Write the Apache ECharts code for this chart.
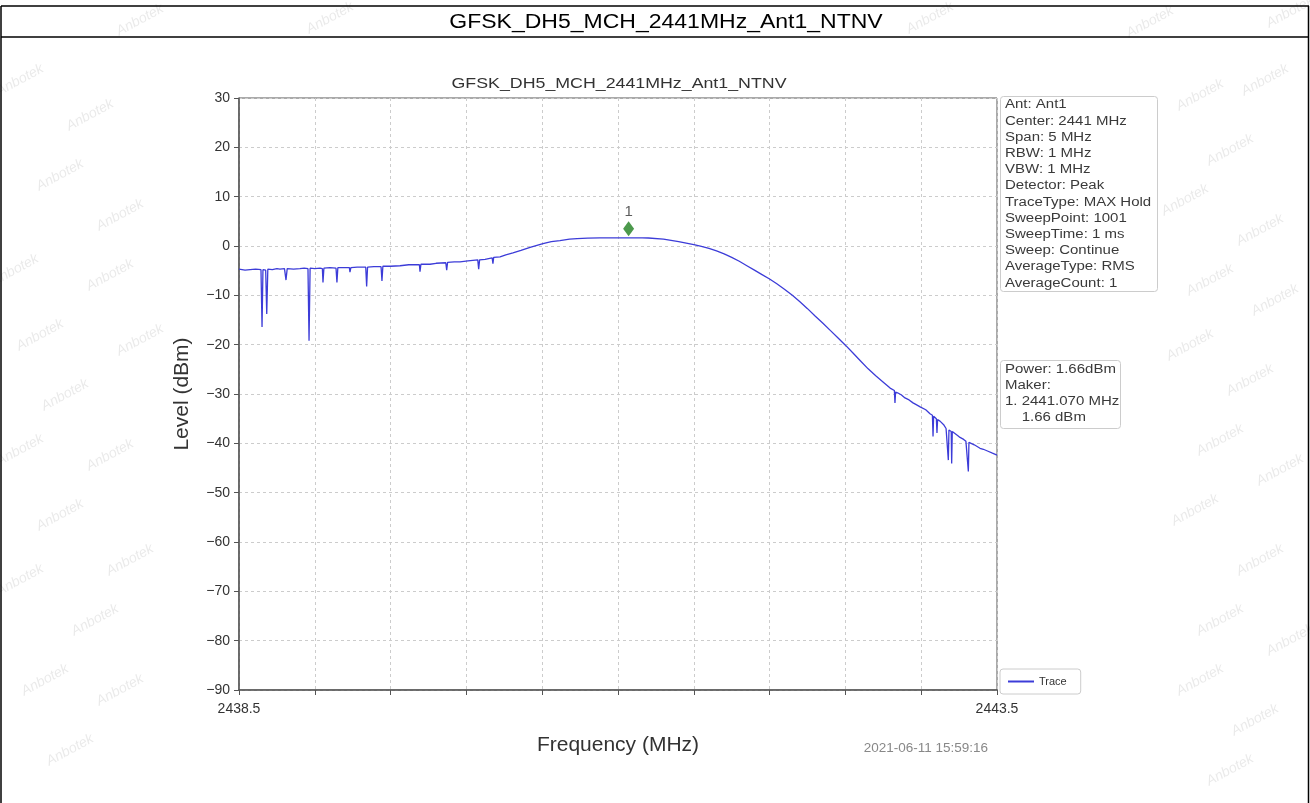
<!DOCTYPE html>
<html>
<head>
<meta charset="utf-8">
<script src="https://cdn.jsdelivr.net/npm/echarts@6/dist/echarts.min.js"></script>
<style>
html,body{margin:0;padding:0;background:#fff;}
#chart{width:1310px;height:803px;}
</style>
</head>
<body>
<div id="chart"></div>
<script>
// ---- data ----
var pageTitle = "GFSK_DH5_MCH_2441MHz_Ant1_NTNV";
var chartTitle = "GFSK_DH5_MCH_2441MHz_Ant1_NTNV";
var xTickLabels = [2438.5, 2443.5];
var freqMHz = [
  2438.500,2438.540,2438.573,2438.610,2438.645,2438.652,2438.658,2438.676,2438.683,2438.690,
  2438.720,2438.750,2438.770,2438.800,2438.810,2438.818,2438.860,2438.902,2438.930,2438.955,
  2438.962,2438.969,2439.000,2439.034,2439.050,2439.054,2439.060,2439.100,2439.140,2439.146,
  2439.152,2439.190,2439.228,2439.232,2439.238,2439.280,2439.336,2439.342,2439.348,2439.390,
  2439.437,2439.443,2439.449,2439.500,2439.562,2439.620,2439.690,2439.694,2439.700,2439.760,
  2439.800,2439.864,2439.870,2439.876,2439.920,2439.958,2440.010,2440.075,2440.081,2440.087,
  2440.123,2440.170,2440.175,2440.180,2440.222,2440.260,2440.307,2440.360,2440.420,2440.505,
  2440.560,2440.617,2440.680,2440.730,2440.800,2440.881,2440.980,2441.070,2441.160,2441.200,
  2441.300,2441.400,2441.450,2441.500,2441.550,2441.600,2441.650,2441.700,2441.750,2441.800,
  2441.850,2441.900,2441.950,2442.000,2442.050,2442.100,2442.150,2442.200,2442.250,2442.300,
  2442.350,2442.400,2442.450,2442.500,2442.550,2442.600,2442.650,2442.700,2442.750,2442.795,
  2442.823,2442.827,2442.831,2442.847,2442.870,2442.893,2442.920,2442.946,2442.970,
  2442.993,2443.030,2443.058,2443.074,2443.078,2443.082,2443.091,2443.100,2443.104,2443.108,
  2443.124,2443.150,2443.164,2443.175,2443.179,2443.183,2443.190,2443.198,2443.201,2443.205,
  2443.216,2443.240,2443.256,2443.280,2443.295,2443.307,2443.311,2443.315,2443.322,2443.350,
  2443.388,2443.410,2443.441,2443.470,2443.500
];
var levelDBm = [
  -4.7,-4.9,-4.8,-4.7,-4.8,-16.4,-4.8,-4.9,-13.8,-4.7,
  -4.8,-4.6,-4.7,-4.6,-6.9,-4.6,-4.7,-4.6,-4.5,-4.6,
  -19.2,-4.5,-4.6,-4.5,-4.6,-7.4,-4.5,-4.4,-4.5,-7.4,
  -4.4,-4.4,-4.4,-5.3,-4.4,-4.3,-4.3,-8.2,-4.3,-4.2,
  -4.2,-7.1,-4.1,-4.1,-4.0,-3.8,-3.8,-5.2,-3.7,-3.7,
  -3.5,-3.4,-4.9,-3.3,-3.2,-3.2,-3.0,-2.8,-4.7,-2.8,
  -2.7,-2.4,-3.6,-2.3,-2.2,-1.8,-1.4,-0.9,-0.3,0.5,
  0.9,1.1,1.4,1.5,1.6,1.65,1.66,1.66,1.64,1.62,
  1.4,0.9,0.6,0.3,-0.1,-0.5,-1.0,-1.6,-2.3,-3.1,
  -4.0,-4.9,-5.8,-6.7,-7.7,-8.8,-10.0,-11.3,-12.7,-14.2,
  -15.6,-17.1,-18.6,-20.1,-21.7,-23.3,-24.9,-26.3,-27.6,-28.8,
  -29.3,-31.8,-29.6,-29.8,-30.2,-30.8,-31.2,-31.8,-32.2,
  -32.6,-33.2,-34.0,-34.3,-38.6,-34.5,-34.6,-35.0,-37.9,-35.2,
  -35.5,-36.3,-37.0,-37.2,-43.4,-37.3,-37.4,-37.6,-44.1,-37.6,
  -37.8,-38.4,-38.8,-39.2,-39.6,-39.7,-45.7,-39.8,-39.9,-40.3,
  -41.0,-41.2,-41.6,-42.0,-42.4
];
var markerFreq = [2441.070];
var markerLevel = [1.66];
var markerNames = ["1"];
var infoLines = ["Ant: Ant1","Center: 2441 MHz","Span: 5 MHz","RBW: 1 MHz","VBW: 1 MHz","Detector: Peak","TraceType: MAX Hold","SweepPoint: 1001","SweepTime: 1 ms","Sweep: Continue","AverageType: RMS","AverageCount: 1"];
var powerLines = ["Power: 1.66dBm","Maker:","1. 2441.070 MHz","    1.66 dBm"];
var timestamp = "2021-06-11 15:59:16";
var legendName = "Trace";

// ---- build ----
var traceData = freqMHz.map(function(f,i){return [f, levelDBm[i]];});
var markerData = markerFreq.map(function(f,i){return {value:[f, markerLevel[i]], name: markerNames[i]};});

var FONT = "Liberation Sans, Arial, sans-serif";
var wm = [];
var wmPos = [[20,80],[90,115],[60,175],[120,215],[15,270],[110,275],[40,335],[140,340],[65,395],[20,450],[110,455],[60,515],[130,560],[20,580],[95,620],[45,680],[120,690],[70,750],
             [1200,95],[1265,80],[1230,150],[1185,200],[1260,230],[1210,280],[1275,300],[1190,345],[1250,380],[1220,440],[1280,470],[1195,510],[1260,560],[1220,620],[1290,640],[1200,680],[1255,720],[1230,770],
             [140,20],[330,18],[930,18],[1150,22],[1290,12]];
wmPos.forEach(function(p){
  wm.push({type:'text', x:p[0], y:p[1], rotation:0.5, style:{text:'Anbotek', fill:'rgba(150,150,150,0.2)', font:'italic 14px '+FONT, align:'center', verticalAlign:'middle'}, silent:true});
});

var chart = echarts.init(document.getElementById('chart'), null, {renderer:'canvas'});
var option = {
  backgroundColor:'#ffffff',
  animation:false,
  grid:{left:239, right:313, top:98, bottom:113, show:true, borderColor:'#555', borderWidth:1, backgroundColor:'#fff'},
  legend:{
    data:[legendName], left:1000, top:669, orient:'vertical',
    itemWidth:26, itemHeight:2, itemGap:4, padding:[7,14,7,8],
    borderColor:'#ccc', borderWidth:1, borderRadius:3, backgroundColor:'#fff',
    textStyle:{fontFamily:FONT, fontSize:11, color:'#333'},
    icon:'rect'
  },
  xAxis:{
    type:'value', min:2438.5, max:2443.5, interval:0.5,
    name:'Frequency (MHz)', nameLocation:'middle', nameGap:45,
    nameTextStyle:{fontFamily:FONT, fontSize:21, color:'#333'},
    axisLine:{show:true, onZero:false, lineStyle:{color:'#555', width:1.5}},
    axisTick:{show:true, length:5, lineStyle:{color:'#555'}},
    axisLabel:{fontFamily:FONT, fontSize:14, color:'#333', margin:12, showMinLabel:true, showMaxLabel:true,
      formatter:function(v){
        for (var i=0;i<xTickLabels.length;i++){ if (Math.abs(v-xTickLabels[i])<1e-6) return xTickLabels[i].toFixed(1); }
        return '';
      }},
    splitLine:{show:true, lineStyle:{color:'#cccccc', type:[3,3], width:1}}
  },
  yAxis:{
    type:'value', min:-90, max:30, interval:10,
    name:'Level (dBm)', nameLocation:'middle', nameGap:46, nameRotate:90,
    nameTextStyle:{fontFamily:FONT, fontSize:21, color:'#333'},
    axisLine:{show:true, onZero:false, lineStyle:{color:'#555', width:1.5}},
    axisTick:{show:true, length:5, lineStyle:{color:'#555'}},
    axisLabel:{fontFamily:FONT, fontSize:14, color:'#333', margin:9,
      formatter:function(v){ return v<0 ? '\u2212'+Math.abs(v) : String(v); }},
    splitLine:{show:true, lineStyle:{color:'#cccccc', type:[3,3], width:1}}
  },
  series:[
    {name:legendName, type:'line', data:traceData, showSymbol:false, symbol:'none',
     lineStyle:{color:'#3c3cd8', width:1.3}, itemStyle:{color:'#3c3cd8'}, z:3},
    {name:'marker', type:'scatter', data:markerData, symbol:'diamond', symbolSize:[11,15], symbolOffset:[0,-9],
     itemStyle:{color:'#1f7f1f'}, z:4,
     label:{show:true, position:'top', distance:-2, formatter:'{b}', fontFamily:FONT, fontSize:15, color:'#333', offset:[0,-4]}}
  ],
  graphic: wm.concat([
    {type:'line', shape:{x1:1, y1:6, x2:1309, y2:6}, style:{stroke:'#000', lineWidth:1.5}, silent:true},
    {type:'line', shape:{x1:1, y1:37, x2:1309, y2:37}, style:{stroke:'#000', lineWidth:1.5}, silent:true},
    {type:'line', shape:{x1:1, y1:6, x2:1, y2:803}, style:{stroke:'#000', lineWidth:1.5}, silent:true},
    {type:'line', shape:{x1:1308.5, y1:6, x2:1308.5, y2:803}, style:{stroke:'#000', lineWidth:1.5}, silent:true},
    {type:'text', x:666, y:22, scaleX:1.15, style:{text:pageTitle, font:'20px '+FONT, fill:'#000', align:'center', verticalAlign:'middle'}},
    {type:'text', x:619, y:84, scaleX:1.27, style:{text:chartTitle, font:'14px '+FONT, fill:'#333', align:'center', verticalAlign:'middle'}},
    {type:'rect', shape:{x:1000.5, y:96.5, width:157, height:195, r:3}, style:{fill:'#fff', stroke:'#ccc', lineWidth:1}, z:10},
    {type:'text', x:1005, y:97, scaleX:1.25, z:11, style:{text:infoLines.join('\n'), font:'12px '+FONT, fill:'#3a3a3a', lineHeight:16.2}},
    {type:'rect', shape:{x:1000.5, y:360.5, width:120, height:68, r:3}, style:{fill:'#fff', stroke:'#ccc', lineWidth:1}, z:10},
    {type:'text', x:1005, y:362, scaleX:1.25, z:11, style:{text:powerLines.join('\n'), font:'12px '+FONT, fill:'#3a3a3a', lineHeight:16}},
    {type:'text', x:988, y:748, style:{text:timestamp, font:'13.5px '+FONT, fill:'#888', align:'right', verticalAlign:'middle'}}
  ])
};
chart.setOption(option);
</script>
</body>
</html>
